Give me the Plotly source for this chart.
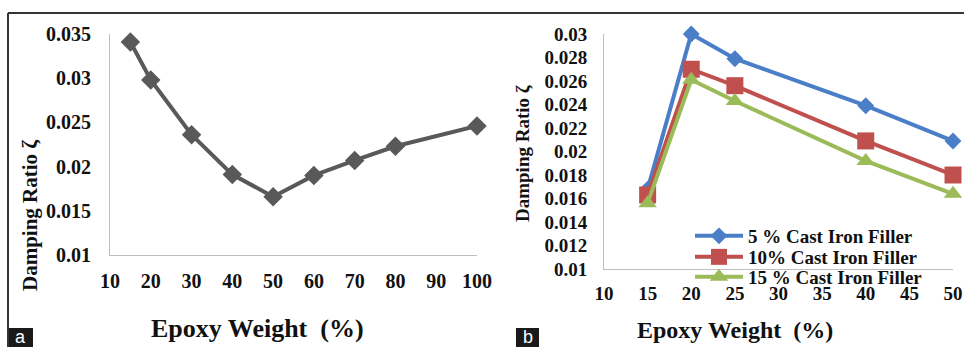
import plotly.graph_objects as go

W, H = 964, 347

# ---- data ----
epoxy_a = [15, 20, 30, 40, 50, 60, 70, 80, 100]
damping_a = [0.0341, 0.0298, 0.0236, 0.0191, 0.0166, 0.0190, 0.0207, 0.0223, 0.0246]

epoxy_b = [15, 20, 25, 40, 50]
damping_5 = [0.0168, 0.0300, 0.0279, 0.0239, 0.0209]
damping_10 = [0.0163, 0.0270, 0.0256, 0.0209, 0.0180]
damping_15 = [0.0156, 0.0261, 0.0243, 0.0192, 0.0164]
series_names = ["5 % Cast Iron Filler", "10% Cast Iron Filler", "15 % Cast Iron Filler"]

xticks_a = [10, 20, 30, 40, 50, 60, 70, 80, 90, 100]
yticks_a = [0.01, 0.015, 0.02, 0.025, 0.03, 0.035]
yticklabels_a = ["0.01", "0.015", "0.02", "0.025", "0.03", "0.035"]
xticks_b = [10, 15, 20, 25, 30, 35, 40, 45, 50]
yticks_b = [0.01, 0.012, 0.014, 0.016, 0.018, 0.02, 0.022, 0.024, 0.026, 0.028, 0.03]
yticklabels_b = ["0.01", "0.012", "0.014", "0.016", "0.018", "0.02", "0.022", "0.024", "0.026", "0.028", "0.03"]

SERIF = "Liberation Serif"


def px(x):
    return x / W


def py(y):
    return 1 - y / H


fig = go.Figure()

fig.add_trace(go.Scatter(
    x=epoxy_a, y=damping_a, mode="lines+markers", xaxis="x", yaxis="y",
    line=dict(color="#595959", width=4),
    marker=dict(symbol="diamond", size=15, color="#595959"),
    showlegend=False, cliponaxis=False,
))

colors_b = ["#4A7EC7", "#C0504D", "#9BBB59"]
symbols_b = ["diamond", "square", "triangle-up"]
sizes_b = [13, 17, 16]
legends_b = ["legend", "legend2", "legend3"]
for vals, name, col, sym, sz, lg in zip([damping_5, damping_10, damping_15], series_names,
                                        colors_b, symbols_b, sizes_b, legends_b):
    fig.add_trace(go.Scatter(
        x=epoxy_b, y=vals, mode="lines+markers", xaxis="x2", yaxis="y2",
        name=name, legend=lg,
        line=dict(color=col, width=4),
        marker=dict(symbol=sym, size=sz, color=col),
        cliponaxis=False,
    ))

axis_common = dict(showline=True, linecolor="#BFBFBF", linewidth=1, showgrid=False,
                   zeroline=False, ticks="", fixedrange=True, automargin=False)
tf_a = dict(family=SERIF, size=20, color="#111111", weight="bold")
tf_b = dict(family=SERIF, size=19, color="#111111", weight="bold")

legend_font = dict(family=SERIF, size=19, color="#111111", weight="bold")
legend_rows = [236, 257, 277]
legend_layout = {}
for lg, row in zip(legends_b, legend_rows):
    legend_layout[lg] = dict(x=px(690), y=py(row), xanchor="left", yanchor="middle",
                             bgcolor="rgba(0,0,0,0)", font=legend_font, itemwidth=48,
                             borderwidth=0)

fig.update_layout(
    width=W, height=H, autosize=False,
    margin=dict(l=0, r=0, t=0, b=0, pad=0, autoexpand=False),
    paper_bgcolor="white", plot_bgcolor="white",
    xaxis=dict(domain=[px(110), px(477)], range=[10, 100], anchor="y",
               tickvals=xticks_a, ticklabelstandoff=8, tickfont=tf_a, **axis_common),
    yaxis=dict(domain=[py(255), py(34)], range=[0.01, 0.035], anchor="x",
               tickvals=yticks_a, ticktext=yticklabels_a, ticklabelstandoff=14,
               tickfont=tf_a, **axis_common),
    xaxis2=dict(domain=[px(604), px(953)], range=[10, 50], anchor="y2",
                tickvals=xticks_b, ticklabelstandoff=7, tickfont=tf_b, **axis_common),
    yaxis2=dict(domain=[py(269), py(34)], range=[0.01, 0.03], anchor="x2",
                tickvals=yticks_b, ticktext=yticklabels_b, ticklabelstandoff=12,
                tickfont=tf_b, **axis_common),
    showlegend=True,
    **legend_layout,
)

ann = [
    dict(text="Epoxy Weight\u00a0\u00a0(%)", x=px(257), y=py(328),
         font=dict(family=SERIF, size=26, color="#111111", weight="bold")),
    dict(text="Epoxy Weight\u00a0\u00a0(%)", x=px(735), y=py(330),
         font=dict(family=SERIF, size=24, color="#111111", weight="bold")),
    dict(text="Damping Ratio ζ", x=px(30), y=py(216), textangle=-90,
         font=dict(family=SERIF, size=21, color="#111111", weight="bold")),
    dict(text="Damping Ratio ζ", x=px(522), y=py(153), textangle=-90,
         font=dict(family=SERIF, size=19, color="#111111", weight="bold")),
]
for a in ann:
    fig.add_annotation(xref="paper", yref="paper", xanchor="center", yanchor="middle",
                       showarrow=False, **a)

# panel labels
for lab, x0, x1 in [("a", 8, 33), ("b", 516, 539)]:
    fig.add_shape(type="rect", xref="paper", yref="paper",
                  x0=px(x0), x1=px(x1), y0=py(347), y1=py(328),
                  fillcolor="#1a1a1a", line=dict(width=0))
    fig.add_annotation(text=lab, xref="paper", yref="paper", x=px((x0 + x1) / 2), y=py(337),
                       xanchor="center", yanchor="middle", showarrow=False,
                       font=dict(family="Liberation Sans", size=18, color="white"))

# frame lines
fig.add_shape(type="line", xref="paper", yref="paper", x0=px(8), x1=1, y0=py(13), y1=py(13),
              line=dict(color="#333333", width=2))
fig.add_shape(type="line", xref="paper", yref="paper", x0=px(8), x1=px(8), y0=py(13), y1=0,
              line=dict(color="#333333", width=2))

fig.write_html("out.html", config={"displayModeBar": False},
               post_script="document.body.style.margin='0';document.body.style.overflow='hidden';")
